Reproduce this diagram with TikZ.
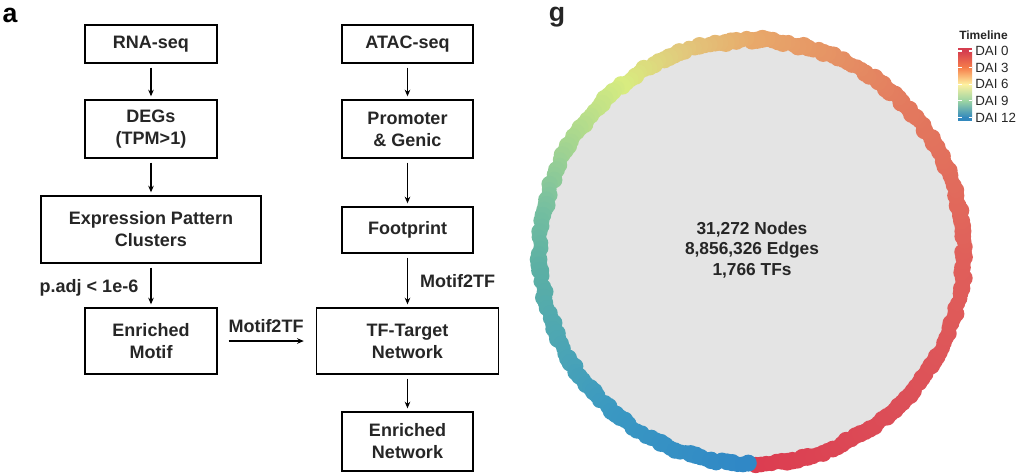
\documentclass[tikz,border=0pt]{standalone}
\usepackage{fontspec}
\setmainfont{Liberation Sans}
\usetikzlibrary{arrows.meta}
\definecolor{txt}{HTML}{262626}
\definecolor{disk}{HTML}{E4E4E4}
\definecolor{rA}{HTML}{DC3C50}
\definecolor{rB}{HTML}{DC4F58}
\definecolor{rC}{HTML}{E0605A}
\definecolor{rD}{HTML}{E37A5E}
\definecolor{rE}{HTML}{E8A86A}
\definecolor{rF}{HTML}{E2C87C}
\definecolor{rG}{HTML}{D8EC80}
\definecolor{rH}{HTML}{A6D690}
\definecolor{rI}{HTML}{74BEA0}
\definecolor{rJ}{HTML}{5CB0A4}
\definecolor{rK}{HTML}{4AA4B6}
\definecolor{rL}{HTML}{3A98C2}
\definecolor{rM}{HTML}{3088C6}
\definecolor{lA}{HTML}{D53E4F}
\definecolor{lB}{HTML}{F67E4B}
\definecolor{lC}{HTML}{FEF1A0}
\definecolor{lD}{HTML}{9BD4A4}
\definecolor{lE}{HTML}{3288BD}
\begin{document}
\begin{tikzpicture}[x=0.75pt,y=-0.75pt,
  box/.style={draw=black, line width=1.1pt, fill=white, align=center,
    font=\bfseries\fontsize{13.5}{16.5}\selectfont, text=txt, inner sep=0pt},
  flow/.style={-{Stealth[length=5pt,width=4.2pt]}, line width=0.95pt,
    shorten <=3pt, shorten >=2.2pt},
  lbl/.style={font=\bfseries\fontsize{13.5}{16}\selectfont, text=txt, inner sep=0pt},
  panel/.style={font=\bfseries\fontsize{20}{24}\selectfont, text=black, inner sep=0pt},
  leg/.style={font=\fontsize{10}{12}\selectfont, text=txt, inner sep=0pt, anchor=west},
  tick/.style={white, line width=0.8pt}]
\useasboundingbox (0,0) rectangle (1020,475);

% ---------------- panel a ----------------
\node[panel] (pa) at (10,15) {a};

\node[box, minimum width=99pt, minimum height=28.5pt] (rna) at (151,44) {RNA-seq};
\node[box, minimum width=99pt, minimum height=43.5pt] (degs) at (151,129) {DEGs\\(TPM>1)};
\node[box, minimum width=165pt, minimum height=50.25pt] (expr) at (151,229.5) {Expression Pattern\\Clusters};
\node[box, minimum width=99pt, minimum height=49.5pt] (emotif) at (151,341) {Enriched\\Motif};

\node[box, minimum width=98.25pt, minimum height=28.5pt] (atac) at (407.5,44) {ATAC-seq};
\node[box, minimum width=98.25pt, minimum height=43.5pt] (prom) at (407.5,129) {Promoter\\\& Genic};
\node[box, minimum width=98.25pt, minimum height=34.5pt] (foot) at (407.5,230) {Footprint};
\node[box, minimum width=136.5pt, minimum height=49.5pt] (tft) at (407.5,341) {TF-Target\\Network};
\node[box, minimum width=98.25pt, minimum height=44.25pt] (enet) at (407.5,441.5) {Enriched\\Network};

\draw[flow] (rna) -- (degs);
\draw[flow] (degs) -- (expr);
\draw[flow] (expr) -- (emotif);
\draw[flow] (atac) -- (prom);
\draw[flow] (prom) -- (foot);
\draw[flow] (foot) -- (tft);
\draw[flow] (tft) -- (enet);
\draw[flow, shorten <=8.25pt, shorten >=9pt] (emotif) -- (tft);

\node[lbl] (padj) at (89,287.5) {p.adj < 1e-6};
\node[lbl] (m2ta) at (266,326.5) {Motif2TF};
\node[lbl] (m2tb) at (457.5,281.5) {Motif2TF};

% ---------------- panel g ----------------
\node[panel, text=txt] (pg) at (557,17) {g};

\fill[disk] (752,252) circle[radius=158pt];
\pgfmathsetseed{11}
\foreach \sa/\ea/\ca/\cb in {-89/-45/rA/rB, -45/0/rB/rC, 0/45/rC/rD, 45/90/rD/rE,
    90/110/rE/rF, 110/128/rF/rG, 128/150/rG/rH, 150/170/rH/rI, 170/185/rI/rJ,
    185/210/rJ/rK, 210/230/rK/rL, 230/269/rL/rM}{
  \pgfmathtruncatemacro\n{max(4,(\ea-\sa)/1.4)}
  \foreach \t in {0,...,\n}{
    \pgfmathsetmacro\ang{\sa+(\ea-\sa)*\t/\n}
    \pgfmathtruncatemacro\pc{100-100*\t/\n}
    \pgfmathsetmacro\rr{212+1.6*rand}
    \pgfmathsetmacro\dr{6.1+0.7*rand}
    \fill[\ca!\pc!\cb] ({752+\rr*cos(\ang)},{252-\rr*sin(\ang)}) circle[radius=\dr pt];
  }
}

\node[align=center, font=\bfseries\fontsize{13}{15.4}\selectfont, text=txt, inner sep=0pt]
  (stats) at (752,250) {31,272 Nodes\\8,856,326 Edges\\1,766 TFs};

% legend
\node[font=\bfseries\fontsize{9}{11}\selectfont, text=txt, inner sep=0pt] (ltitle) at (983.5,35) {Timeline};
\fill[lA] (958,48) rectangle (972,51.2);
\shade[top color=lA, bottom color=lB] (958,51) rectangle (972,67.8);
\shade[top color=lB, bottom color=lC] (958,67.6) rectangle (972,84.4);
\shade[top color=lC, bottom color=lD] (958,84.2) rectangle (972,101);
\shade[top color=lD, bottom color=lE] (958,100.8) rectangle (972,117.6);
\fill[lE] (958,117.4) rectangle (972,121);
\foreach \yy in {51,67.6,84.2,100.8,117.4}{
  \draw[tick] (958,\yy) -- (961.5,\yy);
  \draw[tick] (968.5,\yy) -- (972,\yy);
}
\node[leg] (l0) at (975,51) {DAI 0};
\node[leg] (l3) at (975,67.6) {DAI 3};
\node[leg] (l6) at (975,84.2) {DAI 6};
\node[leg] (l9) at (975,100.8) {DAI 9};
\node[leg] (l12) at (975,117.4) {DAI 12};
\end{tikzpicture}
\end{document}
